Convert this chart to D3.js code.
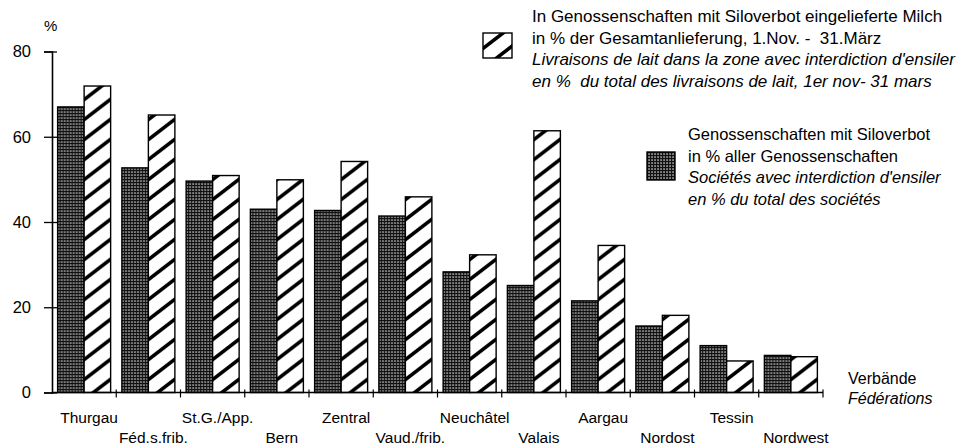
<!DOCTYPE html>
<html>
<head>
<meta charset="utf-8">
<script src="https://cdn.jsdelivr.net/npm/d3@7"></script>
<style>
  body { margin: 0; background: #fff; }
  svg { display: block; font-family: "Liberation Sans", Arial, Helvetica, sans-serif; }
  svg text { white-space: pre; }
</style>
</head>
<body>
<div id="chart"></div>
<script>
// federations, in the order they are drawn
const categories = ["Thurgau", "Féd.s.frib.", "St.G./App.", "Bern", "Zentral", "Vaud./frib.",
  "Neuchâtel", "Valais", "Aargau", "Nordost", "Tessin", "Nordwest"];

// Genossenschaften mit Siloverbot in % aller Genossenschaften (dotted bars)
const societes = [67.0, 52.7, 49.6, 43.0, 42.7, 41.4, 28.3, 25.1, 21.5, 15.6, 11.0, 8.7];

// eingelieferte Milch in % der Gesamtanlieferung (hatched bars)
const milch = [71.9, 65.1, 50.9, 49.9, 54.2, 45.9, 32.3, 61.4, 34.5, 18.1, 7.4, 8.4];

const yTicks = [0, 20, 40, 60, 80];

const width = 969;
const height = 448;

const svg = d3.select("#chart")
  .append("svg")
  .attr("width", width)
  .attr("height", height);

// patterns for the two series
const defs = svg.append("defs");

const dots = defs.append("pattern")
  .attr("id", "dots")
  .attr("patternUnits", "userSpaceOnUse")
  .attr("width", 3)
  .attr("height", 3);
dots.append("rect").attr("width", 3).attr("height", 3).attr("fill", "#111");
dots.append("rect").attr("x", 0.4).attr("y", 0.4).attr("width", 1.3).attr("height", 1.3).attr("fill", "#fff");

// diagonal "/" stripes, roughly 20px apart vertically
const hw = 26, hh = 20;
const hatch = defs.append("pattern")
  .attr("id", "hatch")
  .attr("patternUnits", "userSpaceOnUse")
  .attr("width", hw)
  .attr("height", hh);
hatch.append("rect").attr("width", hw).attr("height", hh).attr("fill", "#fff");
hatch.append("path")
  .attr("d", `M0,${hh} L${hw},0 M${-hw / 2},${hh / 2} L${hw / 2},${-hh / 2} M${hw / 2},${1.5 * hh} L${1.5 * hw},${hh / 2}`)
  .attr("stroke", "#000")
  .attr("stroke-width", 3.6);

// scales
const x0 = d3.scaleBand()
  .domain(categories)
  .range([52, 823])
  .paddingInner(0.175)
  .paddingOuter(0.0875);

const x1 = d3.scaleBand()
  .domain(["societes", "milch"])
  .range([0, x0.bandwidth()]);

const y = d3.scaleLinear().domain([0, 80]).range([392.5, 51.5]);

// y axis, ticks cross the line
const yAxis = svg.append("g")
  .attr("transform", "translate(52,0)")
  .call(d3.axisLeft(y).tickValues(yTicks).tickSizeOuter(0).tickSize(8).tickPadding(0));
yAxis.select(".domain").attr("stroke", "#000").attr("stroke-width", 1.6);
yAxis.selectAll(".tick line").attr("x1", 5).attr("x2", -8).attr("stroke-width", 1.3);
yAxis.selectAll(".tick text")
  .attr("x", -21)
  .attr("font-size", 16.5)
  .attr("font-family", "Liberation Sans, Arial, sans-serif")
  .attr("fill", "#000");

svg.append("text")
  .attr("x", 44)
  .attr("y", 31)
  .attr("font-size", 15)
  .text("%");

// bars
const groups = svg.append("g")
  .selectAll("g")
  .data(categories)
  .join("g")
  .attr("transform", d => `translate(${x0(d)},0)`);

groups.append("rect")
  .attr("x", x1("societes"))
  .attr("y", (d, i) => y(societes[i]))
  .attr("width", x1.bandwidth())
  .attr("height", (d, i) => y(0) - y(societes[i]))
  .attr("fill", "url(#dots)")
  .attr("stroke", "#000")
  .attr("stroke-width", 1.4);

groups.append("rect")
  .attr("x", x1("milch"))
  .attr("y", (d, i) => y(milch[i]))
  .attr("width", x1.bandwidth())
  .attr("height", (d, i) => y(0) - y(milch[i]))
  .attr("fill", "url(#hatch)")
  .attr("stroke", "#000")
  .attr("stroke-width", 1.4);

// x axis line with small crossing ticks at group boundaries
svg.append("line")
  .attr("x1", 52).attr("x2", 823)
  .attr("y1", y(0)).attr("y2", y(0))
  .attr("stroke", "#000")
  .attr("stroke-width", 1.6);

const step = x0.step();
svg.append("g")
  .selectAll("line")
  .data(categories)
  .join("line")
  .attr("x1", d => x0(d) - x0.paddingOuter() * step + step)
  .attr("x2", d => x0(d) - x0.paddingOuter() * step + step)
  .attr("y1", y(0) - 3)
  .attr("y2", y(0) + 5)
  .attr("stroke", "#000")
  .attr("stroke-width", 1.2);

// category labels in two alternating rows
svg.append("g")
  .selectAll("text")
  .data(categories)
  .join("text")
  .attr("x", d => x0(d) + x0.bandwidth() / 2 + 5)
  .attr("y", (d, i) => i % 2 === 0 ? 423 : 443)
  .attr("text-anchor", "middle")
  .attr("font-size", 15.5)
  .text(d => d);

svg.append("text").attr("x", 848).attr("y", 384).attr("font-size", 16).text("Verbände");
svg.append("text").attr("x", 848).attr("y", 404).attr("font-size", 16)
  .attr("font-style", "italic").text("Fédérations");

// legends
function legend(bx, by, bw, bh, fill, tx, ty, size, lines) {
  svg.append("rect")
    .attr("x", bx).attr("y", by).attr("width", bw).attr("height", bh)
    .attr("fill", fill).attr("stroke", "#000").attr("stroke-width", 1.4);
  svg.append("g")
    .selectAll("text")
    .data(lines)
    .join("text")
    .attr("x", tx)
    .attr("y", (d, i) => ty + i * 21.7)
    .attr("font-size", size)
    .attr("font-style", d => d.italic ? "italic" : "normal")
    .text(d => d.text);
}

legend(483, 33, 29, 25, "url(#hatch)", 532, 22, 17, [
  { text: "In Genossenschaften mit Siloverbot eingelieferte Milch" },
  { text: "in % der Gesamtanlieferung, 1.Nov. -  31.März" },
  { text: "Livraisons de lait dans la zone avec interdiction d'ensiler", italic: true },
  { text: "en %  du total des livraisons de lait, 1er nov- 31 mars", italic: true }
]);

legend(647, 152, 28, 28, "url(#dots)", 688, 140, 16.5, [
  { text: "Genossenschaften mit Siloverbot" },
  { text: "in % aller Genossenschaften" },
  { text: "Sociétés avec interdiction d'ensiler", italic: true },
  { text: "en % du total des sociétés", italic: true }
]);
</script>
</body>
</html>
